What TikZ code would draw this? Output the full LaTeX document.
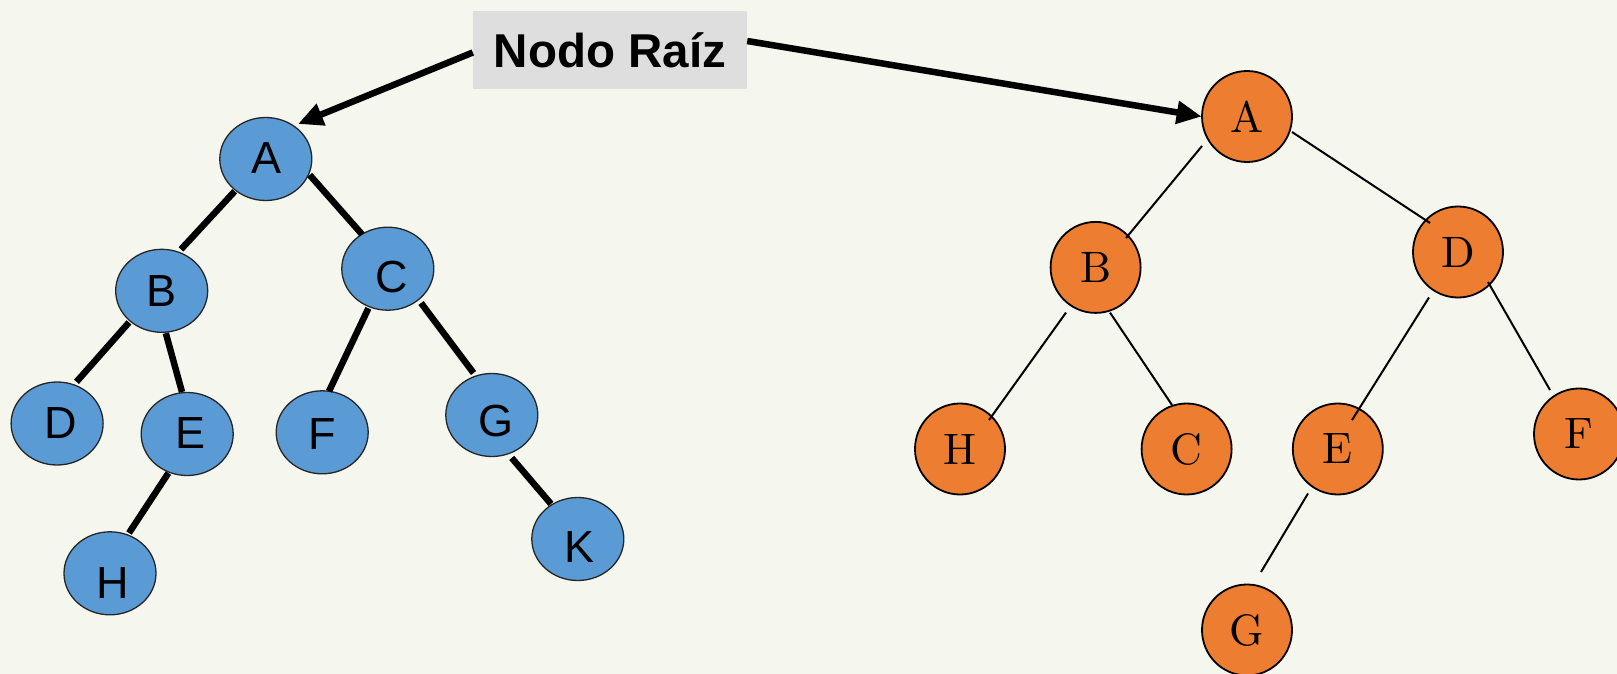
\documentclass[tikz,border=0pt]{standalone}
\usepackage{fontspec}
\newfontfamily\arialfont{Liberation Sans}
\newfontfamily\lmten{lmroman10-regular.otf}
\usetikzlibrary{arrows.meta,calc,shapes.geometric}
\definecolor{bgcol}{HTML}{F5F6EE}
\definecolor{boxcol}{HTML}{DEDEDE}
\definecolor{bluefill}{HTML}{5B9BD5}
\definecolor{orangefill}{HTML}{ED7D31}
\tikzset{
  bnode/.style={ellipse, draw=black!85, line width=1.3pt, fill=bluefill,
    minimum width=92pt, minimum height=83pt, inner sep=0pt},
  blet/.style={inner sep=0pt, font=\arialfont\fontsize{45}{45}\selectfont},
  onode/.style={ellipse, draw=black, line width=1.8pt, fill=orangefill,
    minimum width=90pt, minimum height=91pt, inner sep=0pt,
    font=\lmten\fontsize{44}{44}\selectfont},
  bedge/.style={line width=6.5pt},
  oedge/.style={line width=2pt},
  rootarrow/.style={line width=6.5pt, -{Triangle[length=25pt,width=22pt]}},
}
\begin{document}
\begin{tikzpicture}[x=1pt,y=-1pt]
\fill[bgcol] (0,0) rectangle (1617,674);
\useasboundingbox (0,0) rectangle (1617,674);

% label box
\node[fill=boxcol, minimum width=274pt, minimum height=78pt, inner sep=0pt,
  font=\arialfont\bfseries\fontsize{47.5}{47.5}\selectfont] (root) at (610,50) {Nodo Raíz};

% left tree: ellipses
\node[bnode] (lA) at (265.8,159) {};
\node[bnode] (lB) at (161.7,290.8) {};
\node[bnode] (lC) at (387.8,268.7) {};
\node[bnode] (lD) at (57.1,423.5) {};
\node[bnode] (lE) at (187.2,434) {};
\node[bnode] (lF) at (322.2,432.3) {};
\node[bnode] (lG) at (491.8,415) {};
\node[bnode] (lH) at (110,573.3) {};
\node[bnode] (lK) at (577.8,539) {};
% left tree: letters
\node[blet] (tA) at (266.3,158) {A};
\node[blet] (tB) at (162,290.6) {B};
\node[blet] (tC) at (392,277) {C};
\node[blet] (tD) at (60.7,422.6) {D};
\node[blet] (tE) at (190.8,433) {E};
\node[blet] (tF) at (322.7,434) {F};
\node[blet] (tG) at (496,421) {G};
\node[blet] (tH) at (113,583) {H};
\node[blet] (tK) at (580,547.5) {K};

% left tree: edges
\draw[bedge] ($(lA)+(-31.1,32.3)$) -- ($(lB)+(19.3,-41.4)$);
\draw[bedge] ($(lA)+(43.9,16)$) -- ($(lC)+(-25.8,-34.4)$);
\draw[bedge] ($(lB)+(-32.7,31.6)$) -- ($(lD)+(19.4,-41.7)$);
\draw[bedge] ($(lB)+(4.1,42.4)$) -- ($(lE)+(-5.2,-42)$);
\draw[bedge] ($(lC)+(-19.4,39.6)$) -- ($(lF)+(6.8,-41.1)$);
\draw[bedge] ($(lC)+(33.2,34.3)$) -- ($(lG)+(-18.3,-42)$);
\draw[bedge] ($(lE)+(-18.8,39)$) -- ($(lH)+(19,-40.3)$);
\draw[bedge] ($(lG)+(19.9,42.9)$) -- ($(lK)+(-26.8,-35.1)$);

% right tree: nodes
\node[onode] (rA) at (1247,116.5) {A};
\node[onode] (rB) at (1095.6,267.4) {B};
\node[onode] (rD) at (1458,252) {D};
\node[onode] (rH) at (960,449) {H};
\node[onode] (rC) at (1186.6,449) {C};
\node[onode] (rE) at (1337.8,449) {E};
\node[onode] (rF) at (1579,434) {F};
\node[onode] (rG) at (1247,630) {G};

% right tree: edges
\draw[oedge] ($(rA)+(-45,29.5)$) -- ($(rB)+(30.4,-29.4)$);
\draw[oedge] ($(rA)+(45,15.5)$) -- ($(rD)+(-28,-29)$);
\draw[oedge] ($(rB)+(-29.6,45.2)$) -- ($(rH)+(29,-29)$);
\draw[oedge] ($(rB)+(14.4,45.2)$) -- ($(rC)+(-14.6,-44)$);
\draw[oedge] ($(rD)+(-29,45.5)$) -- ($(rE)+(14.2,-29)$);
\draw[oedge] ($(rD)+(30,30)$) -- ($(rF)+(-29,-44)$);
\draw[oedge] ($(rE)+(-29.8,44.5)$) -- ($(rG)+(14,-58)$);

% arrows from the label to both roots
\draw[rootarrow] ($(root.west)+(0,2.5)$) -- ($(lA)+(32.2,-35)$);
\draw[rootarrow] ($(root.east)+(0,-9)$) -- ($(rA)+(-45.3,0)$);
\end{tikzpicture}
\end{document}
